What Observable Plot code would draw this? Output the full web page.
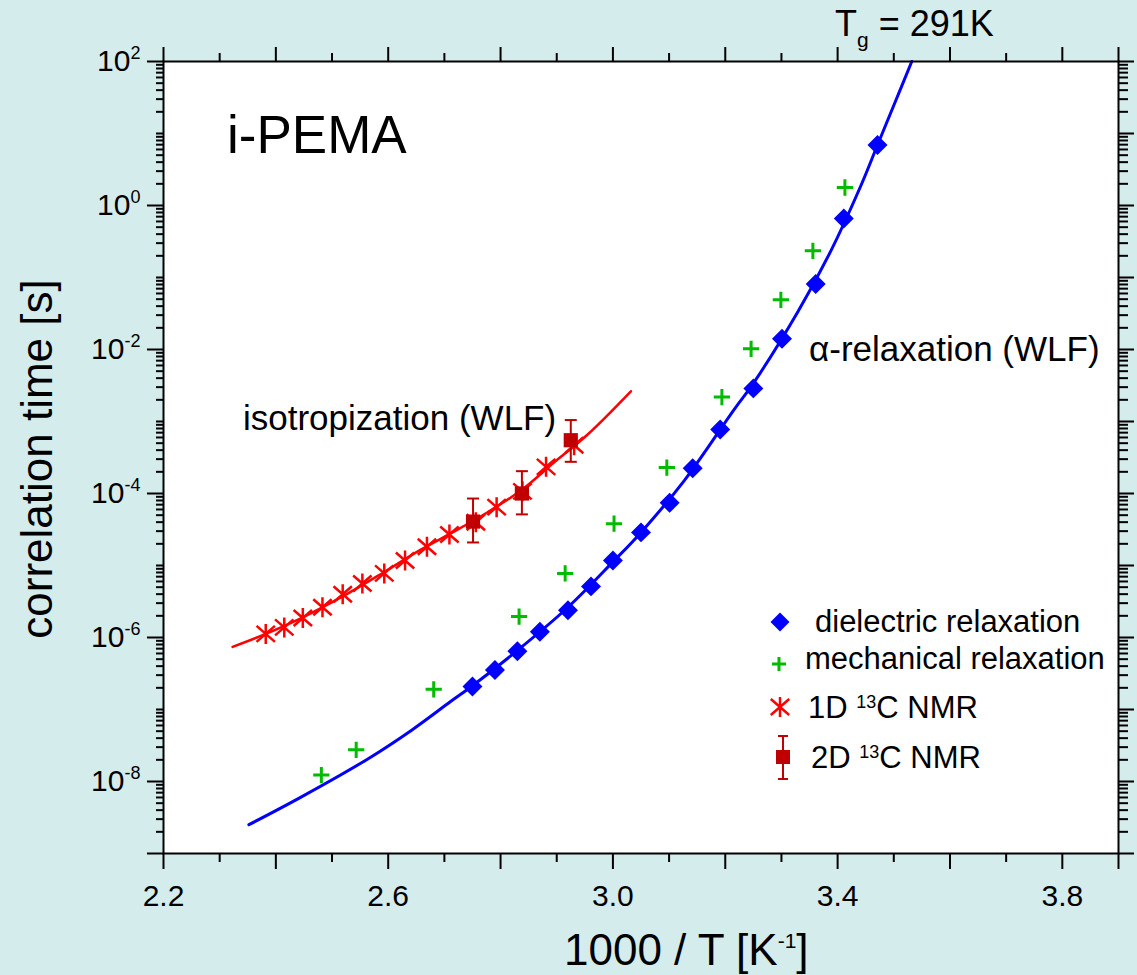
<!DOCTYPE html>
<html><head><meta charset="utf-8">
<script src="https://cdn.jsdelivr.net/npm/d3@7"></script>
<script src="https://cdn.jsdelivr.net/npm/@observablehq/plot@0.6"></script>
<style>
html,body{margin:0;padding:0;background:#d5ecec;}
#chart{width:1137px;height:975px;}
</style></head><body><div id="chart"></div>
<script>
// ---- data (x = 1000/T in K^-1, values = log10 of correlation time in s) ----
const dielX      = [2.750, 2.790, 2.830, 2.870, 2.920, 2.961, 3.000, 3.050, 3.101, 3.142, 3.191, 3.250, 3.301, 3.361, 3.411, 3.471];
const dielLogTau = [-6.68, -6.45, -6.19, -5.92, -5.62, -5.29, -4.93, -4.54, -4.13, -3.65, -3.11, -2.54, -1.85, -1.09, -0.18, 0.84];

const mechX      = [2.481, 2.543, 2.681, 2.833, 2.915, 3.002, 3.096, 3.194, 3.246, 3.299, 3.356, 3.413];
const mechLogTau = [-7.91, -7.56, -6.72, -5.71, -5.11, -4.42, -3.64, -2.66, -1.99, -1.31, -0.63, 0.25];

const nmr1dX      = [2.382, 2.415, 2.448, 2.483, 2.519, 2.554, 2.593, 2.630, 2.669, 2.709, 2.756, 2.793, 2.839, 2.881, 2.931];
const nmr1dLogTau = [-5.95, -5.86, -5.73, -5.58, -5.40, -5.25, -5.11, -4.93, -4.74, -4.57, -4.40, -4.19, -3.97, -3.63, -3.33];

const nmr2dX      = [2.751, 2.838, 2.925];
const nmr2dLogTau = [-4.39, -4.00, -3.26];
const nmr2dLogLo  = [-4.68, -4.29, -3.56];
const nmr2dLogHi  = [-4.07, -3.69, -2.98];

// WLF fit curves
const alphaCurveX      = [2.352, 2.444, 2.563, 2.643, 2.711, 2.750, 2.830, 2.920, 3.000, 3.050, 3.127, 3.216, 3.250, 3.329, 3.388, 3.440, 3.471, 3.501, 3.532];
const alphaCurveLogTau = [-8.60, -8.22, -7.69, -7.28, -6.89, -6.67, -6.18, -5.58, -4.95, -4.54, -3.82, -2.83, -2.47, -1.48, -0.63, 0.25, 0.84, 1.41, 2.00];

const isoCurveX      = [2.323, 2.382, 2.448, 2.519, 2.593, 2.658, 2.717, 2.777, 2.836, 2.895, 2.955, 3.032];
const isoCurveLogTau = [-6.13, -5.95, -5.72, -5.43, -5.09, -4.78, -4.53, -4.26, -3.96, -3.57, -3.18, -2.58];

// ticks
const xLabelTicks = [2.2, 2.6, 3.0, 3.4, 3.8];
const xMajorTicks = [2.2, 2.4, 2.6, 2.8, 3.0, 3.2, 3.4, 3.6, 3.8, 3.9];
const xMinorTicks = [2.3, 2.5, 2.7, 2.9, 3.1, 3.3, 3.5, 3.7];
const yLabelTicks = [1e2, 1e0, 1e-2, 1e-4, 1e-6, 1e-8];
const yOddDecades = [1e1, 1e-1, 1e-3, 1e-5, 1e-7];
const yAllDecades = [1e2, 1e1, 1e0, 1e-1, 1e-2, 1e-3, 1e-4, 1e-5, 1e-6, 1e-7, 1e-8, 1e-9];
const yMinorTicks = [];
for (let e = -9; e <= 1; e++) for (let k = 2; k <= 9; k++) yMinorTicks.push(k * Math.pow(10, e));

const pts = (xs, ls) => xs.map((x, i) => ({x, y: Math.pow(10, ls[i])}));
const diel = pts(dielX, dielLogTau);
const mech = pts(mechX, mechLogTau);
const nmr1d = pts(nmr1dX, nmr1dLogTau);
const nmr2d = nmr2dX.map((x, i) => ({x, y: Math.pow(10, nmr2dLogTau[i]), lo: Math.pow(10, nmr2dLogLo[i]), hi: Math.pow(10, nmr2dLogHi[i])}));
const alphaCurve = pts(alphaCurveX, alphaCurveLogTau);
const isoCurve = pts(isoCurveX, isoCurveLogTau);

const BLUE = "#0000ff", GREEN = "#00bb00", RED = "#ff0000", DARKRED = "#c00000";

const asteriskSym = {draw(ctx, size) {
  const r = Math.sqrt(size / Math.PI);
  ctx.moveTo(0, -r); ctx.lineTo(0, r);
  const a = r * 0.92, b = r * 0.8;
  ctx.moveTo(-a, -b); ctx.lineTo(a, b);
  ctx.moveTo(-a, b); ctx.lineTo(a, -b);
}};
const capSym = {draw(ctx, size) {
  const r = Math.sqrt(size / Math.PI);
  ctx.moveTo(-r, 0); ctx.lineTo(r, 0);
}};

const blank = () => "";
const chart = Plot.plot({
  width: 1137, height: 975,
  marginLeft: 163, marginRight: 19, marginTop: 61, marginBottom: 122,
  style: {background: "#d5ecec", fontFamily: "'Liberation Sans', Arial, sans-serif", color: "black"},
  x: {domain: [2.2, 3.9], label: null},
  y: {type: "log", domain: [1e-9, 1e2], label: null},
  marks: [
    Plot.frame({fill: "white", stroke: "none"}),
    // bottom axis
    Plot.axisX({ticks: xMajorTicks, tickSize: 16, strokeWidth: 2, tickFormat: blank, label: null}),
    Plot.axisX({ticks: xMinorTicks, tickSize: 9, strokeWidth: 2, tickFormat: blank, label: null}),
    Plot.axisX({ticks: xLabelTicks, tickSize: 0, tickPadding: 31, fontSize: 30, tickFormat: d => d.toFixed(1), label: null}),
    // top axis
    Plot.axisX({anchor: "top", ticks: xMajorTicks, tickSize: 15, strokeWidth: 2, tickFormat: blank, label: null}),
    Plot.axisX({anchor: "top", ticks: xMinorTicks, tickSize: 9, strokeWidth: 2, tickFormat: blank, label: null}),
    // left axis
    Plot.axisY({ticks: [...yLabelTicks, 1e-9], tickSize: 16, strokeWidth: 2, tickFormat: blank, label: null}),
    Plot.axisY({ticks: [...yOddDecades, ...yMinorTicks], tickSize: 7, strokeWidth: 2, tickFormat: blank, label: null}),
    Plot.axisY({ticks: yLabelTicks, tickSize: 0, tickPadding: 23, fontSize: 30,
      tickFormat: d => "10^" + Math.round(Math.log10(d)), label: null}),
    // right axis
    Plot.axisY({anchor: "right", ticks: yAllDecades, tickSize: 15, strokeWidth: 2, tickFormat: blank, label: null}),
    Plot.axisY({anchor: "right", ticks: yMinorTicks, tickSize: 9, strokeWidth: 2, tickFormat: blank, label: null}),
    // curves
    Plot.line(isoCurve, {x: "x", y: "y", stroke: RED, strokeWidth: 2.5, curve: "catmull-rom"}),
    Plot.line(alphaCurve, {x: "x", y: "y", stroke: BLUE, strokeWidth: 3, curve: "catmull-rom"}),
    // data
    Plot.dot(mech, {x: "x", y: "y", symbol: "plus", r: 5.3, stroke: GREEN, strokeWidth: 3}),
    Plot.dot(diel, {x: "x", y: "y", symbol: "diamond2", r: 9, fill: BLUE, stroke: "none"}),
    Plot.dot(nmr1d, {x: "x", y: "y", symbol: asteriskSym, r: 10, fill: "none", stroke: RED, strokeWidth: 2.5}),
    Plot.ruleX(nmr2d, {x: "x", y1: "lo", y2: "hi", stroke: DARKRED, strokeWidth: 2}),
    Plot.dot(nmr2d, {x: "x", y: "lo", symbol: capSym, r: 6, fill: "none", stroke: DARKRED, strokeWidth: 2}),
    Plot.dot(nmr2d, {x: "x", y: "hi", symbol: capSym, r: 6, fill: "none", stroke: DARKRED, strokeWidth: 2}),
    Plot.dot(nmr2d, {x: "x", y: "y", symbol: "square", r: 8, fill: DARKRED, stroke: "none"}),
    Plot.frame({stroke: "black", strokeWidth: 2})
  ]
});
document.getElementById("chart").appendChild(chart);

const svg = d3.select(chart);
// remove empty tick-label texts, superscript the decade labels
svg.selectAll("text").each(function() {
  const t = this.textContent;
  if (t === "") { d3.select(this).remove(); return; }
  if (t.startsWith("10^")) {
    const exp = t.slice(3);
    const sel = d3.select(this);
    sel.text("");
    sel.append("tspan").text("10");
    sel.append("tspan").attr("font-size", 18).attr("dy", -12).text(exp);
  }
});

const FONT = "'Liberation Sans', Arial, sans-serif";
function rich(x, y, size, parts, extra) {
  const t = svg.append("text").attr("x", x).attr("y", y).attr("font-size", size)
    .attr("font-family", FONT).attr("fill", "black").attr("text-anchor", "start");
  if (extra) extra(t);
  let back = 0;
  for (const p of parts) {
    if (typeof p === "string") {
      const ts = t.append("tspan").text(p);
      if (back) { ts.attr("dy", back); back = 0; }
    } else {
      t.append("tspan").attr("font-size", p.size).attr("dy", p.dy + back).text(p.text);
      back = -p.dy;
    }
  }
  return t;
}

// titles / annotations
rich(227, 153, 53, ["i-PEMA"]);
rich(243, 430, 35, ["isotropization (WLF)"]);
rich(809, 361, 35, ["\u03b1-relaxation (WLF)"]);
rich(835, 36, 36, ["T", {text: "g", size: 21, dy: 11}, " = 291K"]);
rich(564, 965, 44, ["1000 / T [K", {text: "-1", size: 21, dy: -17}, "]"]);
rich(0, 0, 44, ["correlation time [s]"], t => t.attr("transform", "translate(52,459) rotate(-90)").attr("text-anchor", "middle"));

// legend
const lg = svg.append("g");
lg.append("path").attr("transform", "translate(780,622)").attr("d", d3.symbol(d3.symbolDiamond2, 230)()).attr("fill", BLUE);
rich(815, 632, 31, ["dielectric relaxation"]);
lg.append("path").attr("transform", "translate(779,664)").attr("d", d3.symbol(d3.symbolPlus, 66)()).attr("fill", "none").attr("stroke", GREEN).attr("stroke-width", 3);
rich(805, 669, 31, ["mechanical relaxation"]);
lg.append("path").attr("transform", "translate(780,707)").attr("d", d3.symbol(asteriskSym, Math.PI * 100)()).attr("fill", "none").attr("stroke", RED).attr("stroke-width", 2.5);
rich(808, 718, 31, ["1D ", {text: "13", size: 18, dy: -10}, "C NMR"]);
lg.append("line").attr("x1", 783).attr("x2", 783).attr("y1", 736).attr("y2", 779).attr("stroke", DARKRED).attr("stroke-width", 2);
lg.append("line").attr("x1", 778).attr("x2", 788).attr("y1", 736).attr("y2", 736).attr("stroke", DARKRED).attr("stroke-width", 2);
lg.append("line").attr("x1", 778).attr("x2", 788).attr("y1", 779).attr("y2", 779).attr("stroke", DARKRED).attr("stroke-width", 2);
lg.append("rect").attr("x", 776).attr("y", 750).attr("width", 14).attr("height", 14).attr("fill", DARKRED);
rich(811, 768, 31, ["2D ", {text: "13", size: 18, dy: -10}, "C NMR"]);
</script></body></html>
